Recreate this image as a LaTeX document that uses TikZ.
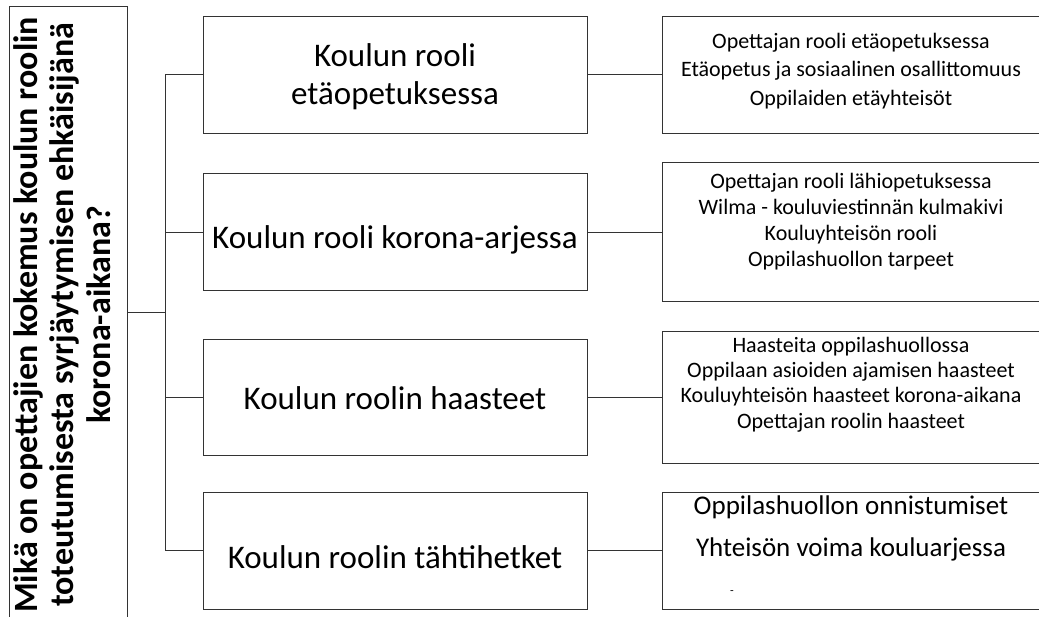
\documentclass[tikz,border=0pt]{standalone}
\usepackage{fontspec}
\setmainfont{Carlito}
\tikzset{
  frame/.style={draw=black!80, line width=1pt, rectangle, inner sep=0pt},
  link/.style={draw=black!80, line width=1pt},
  qtext/.style={font=\fontsize{34}{36.5}\selectfont\bfseries, align=center, rotate=90, anchor=base, inner sep=0pt},
  mtext/.style={font=\fontsize{33}{38}\selectfont, align=center, anchor=base, inner sep=0pt},
  rtext/.style={font=\fontsize{22}{26}\selectfont, align=center, anchor=base, inner sep=0pt}
}
\begin{document}
\begin{tikzpicture}[x=1pt, y=-1pt]

    \useasboundingbox (0,0) rectangle (1039,616);
    \clip (0,0) rectangle (1039,616);

    % Domanda di ricerca
    \node[frame, minimum width=118pt, minimum height=620pt] (q) at (68,316) {};
    \node[qtext] (qtxt) at (110,315) {Mikä on opettajien kokemus koulun roolin\\toteutumisesta syrjäytymisen ehkäisijänä\\korona-aikana?};

    % Temi principali
    \node[frame, minimum width=384pt, minimum height=117pt] (m1) at (395,74.5) {};
    \node[frame, minimum width=384pt, minimum height=117pt] (m2) at (395,232) {};
    \node[frame, minimum width=384pt, minimum height=116pt] (m3) at (395,397) {};
    \node[frame, minimum width=384pt, minimum height=117pt] (m4) at (395,550.5) {};

    \node[mtext] (m1txt) at (395,104) {Koulun rooli\\etäopetuksessa};
    \node[mtext] (m2txt) at (395,248) {Koulun rooli korona-arjessa};
    \node[mtext] (m3txt) at (395,409.5) {Koulun roolin haasteet};
    \node[mtext] (m4txt) at (395,568.5) {Koulun roolin tähtihetket};

    % Sottotemi
    \node[frame, minimum width=378pt, minimum height=117pt] (r1) at (851,74.5) {};
    \node[frame, minimum width=378pt, minimum height=139pt] (r2) at (851,232) {};
    \node[frame, minimum width=378pt, minimum height=132pt] (r3) at (851,397) {};
    \node[frame, minimum width=378pt, minimum height=117pt] (r4) at (851,550.5) {};

    \node[rtext, font=\fontsize{22}{28.5}\selectfont] (r1txt) at (851,105) {Opettajan rooli etäopetuksessa\\Etäopetus ja sosiaalinen osallittomuus\\Oppilaiden etäyhteisöt};
    \node[rtext] (r2txt) at (851,266) {Opettajan rooli lähiopetuksessa\\Wilma - kouluviestinnän kulmakivi\\Kouluyhteisön rooli\\Oppilashuollon tarpeet};
    \node[rtext, font=\fontsize{22}{25.2}\selectfont] (r3txt) at (851,428) {Haasteita oppilashuollossa\\Oppilaan asioiden ajamisen haasteet\\Kouluyhteisön haasteet korona-aikana\\Opettajan roolin haasteet};
    \node[rtext, font=\fontsize{27}{42}\selectfont] (r4txt) at (851,556) {Oppilashuollon onnistumiset\\Yhteisön voima kouluarjessa};
    \node[font=\fontsize{12}{12}\selectfont, inner sep=0pt] (r4dash) at (732,593) {-};

    % Collegamenti
    \coordinate (trunk) at (165,312);
    \draw[link] (q.east |- trunk) -- (trunk);
    \draw[link] (m1.west -| trunk) -- (m4.west -| trunk);
    \foreach \i in {1,...,4} {
        \draw[link] (m\i.west -| trunk) -- (m\i.west);
        \draw[link] (m\i.east) -- (m\i.east -| r\i.west);
    }

\end{tikzpicture}
\end{document}
